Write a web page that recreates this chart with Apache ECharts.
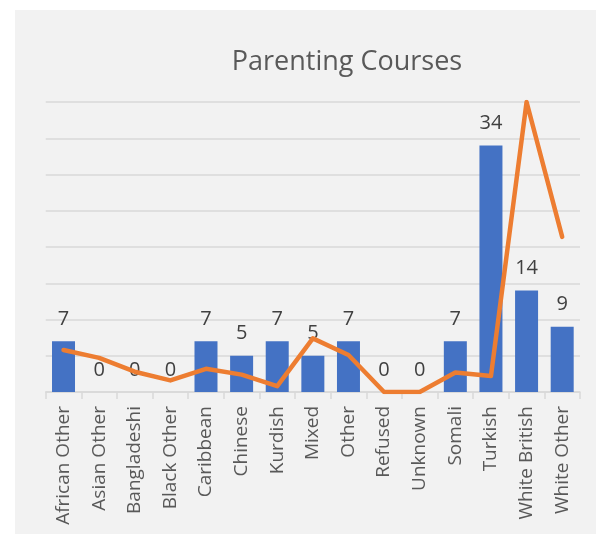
<!DOCTYPE html>
<html>
<head>
<meta charset="utf-8">
<script src="https://cdn.jsdelivr.net/npm/echarts@6/dist/echarts.min.js"></script>
<style>
  html, body { margin: 0; padding: 0; background: #ffffff; }
  #chart { width: 596px; height: 534px; }
</style>
</head>
<body>
<div id="chart"></div>
<script>
// Ethnicity groups on the category axis
const categories = ['African Other', 'Asian Other', 'Bangladeshi', 'Black Other', 'Caribbean',
  'Chinese', 'Kurdish', 'Mixed', 'Other', 'Refused', 'Unknown', 'Somali', 'Turkish',
  'White British', 'White Other'];

// Parenting course attendance counts (bars, labelled)
const attendance = [7, 0, 0, 0, 7, 5, 7, 5, 7, 0, 0, 7, 34, 14, 9];

// Comparison series drawn as the orange line
const comparison = [5.8, 4.7, 2.8, 1.6, 3.2, 2.4, 0.8, 7.4, 5.1, 0, 0, 2.7, 2.2, 40, 21.4];

// Value axis range
const yMin = 0;
const yMax = 40;
const yStep = 5;

const chart = echarts.init(document.getElementById('chart'), null, { renderer: 'canvas' });

chart.setOption({
  backgroundColor: '#ffffff',
  animation: false,
  graphic: [{
    type: 'rect',
    z: -10,
    shape: { x: 15, y: 10, width: 600, height: 540 },
    style: { fill: '#f2f2f2' },
    silent: true
  }],
  title: {
    text: 'Parenting Courses',
    left: 342,
    textAlign: 'center',
    top: 44,
    textStyle: {
      fontFamily: 'Open Sans',
      fontSize: 27,
      fontWeight: 'normal',
      color: '#595959'
    }
  },
  grid: {
    left: 45.7,
    right: 16,
    top: 102,
    bottom: 142
  },
  xAxis: {
    type: 'category',
    data: categories,
    axisLine: { lineStyle: { color: '#d9d9d9', width: 1.5 } },
    axisTick: { show: true, length: 7, lineStyle: { color: '#d9d9d9', width: 1.5 } },
    axisLabel: {
      rotate: 90,
      margin: 14,
      interval: 0,
      fontFamily: 'Open Sans',
      fontSize: 19,
      color: '#595959'
    }
  },
  yAxis: {
    type: 'value',
    min: yMin,
    max: yMax,
    interval: yStep,
    axisLine: { show: false },
    axisTick: { show: false },
    axisLabel: { show: false },
    splitLine: { lineStyle: { color: '#d9d9d9', width: 1.5 } }
  },
  series: [
    {
      type: 'bar',
      data: attendance,
      barWidth: 23,
      itemStyle: { color: '#4472c4' },
      label: {
        show: true,
        position: 'top',
        distance: 12,
        fontFamily: 'Open Sans',
        fontSize: 20,
        color: '#404040'
      },
      z: 2
    },
    {
      type: 'line',
      data: comparison,
      showSymbol: false,
      symbol: 'none',
      lineStyle: { color: '#ed7d31', width: 4.5, cap: 'round', join: 'round' },
      itemStyle: { color: '#ed7d31' },
      z: 3
    }
  ]
});
</script>
</body>
</html>
